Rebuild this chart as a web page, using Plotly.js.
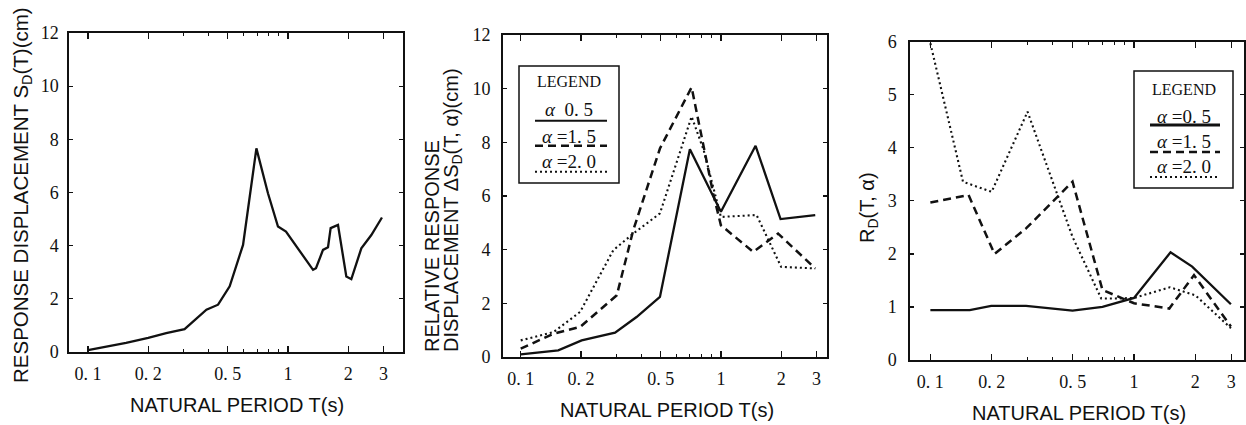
<!DOCTYPE html>
<html><head><meta charset="utf-8">
<script src="https://cdn.plot.ly/plotly-3.0.1.min.js"></script>
<style>html,body{margin:0;padding:0;background:#fff}#c{width:1246px;height:425px}</style>
</head><body><div id="c"></div>
<script>
// ---- data ----
const T1 = [0.1,0.155,0.2,0.246,0.304,0.391,0.447,0.511,0.596,0.695,0.794,0.891,0.977,1.334,1.38,1.496,1.585,1.634,1.778,1.957,2.073,2.326,2.61,2.95];
const SD1 = [0.07,0.34,0.53,0.71,0.86,1.59,1.78,2.47,4.03,7.66,5.97,4.72,4.53,3.09,3.15,3.84,3.94,4.66,4.78,2.84,2.74,3.9,4.4,5.06];

const T2a = [0.1,0.154,0.2016,0.296,0.379,0.496,0.7,1.0,1.49,1.986,2.96];
const D2a = [0.1,0.25,0.62,0.91,1.49,2.24,7.74,5.41,7.87,5.14,5.29];
const T2b = [0.1,0.146,0.198,0.302,0.365,0.496,0.714,0.82,0.915,1.0,1.45,1.93,2.96];
const D2b = [0.31,0.87,1.12,2.3,4.73,7.77,10.05,7.77,6.09,4.91,3.92,4.6,3.3];
const T2c = [0.1,0.146,0.198,0.29,0.365,0.496,0.714,0.82,1.0,1.507,2.0,2.96];
const D2c = [0.62,0.93,1.68,3.98,4.6,5.35,8.96,7.71,5.22,5.29,3.36,3.3];

const T3a = [0.1,0.156,0.199,0.295,0.499,0.7,1.0,1.511,1.93,2.99];
const R3a = [0.94,0.94,1.02,1.02,0.93,1.0,1.17,2.03,1.76,1.05];
const T3b = [0.1,0.154,0.2065,0.295,0.499,0.7,1.0,1.49,1.97,2.99];
const R3b = [2.97,3.11,2.0,2.48,3.36,1.32,1.07,0.97,1.6,0.63];
const T3c = [0.1,0.1446,0.2,0.3,0.499,0.69,0.81,1.0,1.5,2.0,2.99];
const R3c = [5.97,3.36,3.17,4.68,2.32,1.16,1.16,1.17,1.37,1.22,0.6];

const xTickVals = [0.1,0.2,0.5,1,2,3];
const xTickText = ['0. 1','0. 2','0. 5','1','2','3'];
const xMinorVals = [0.3,0.4,0.6,0.7,0.8,0.9];
const legendLabels2 = ['LEGEND','\u03b1  0. 5','\u03b1 =1. 5','\u03b1 =2. 0'];
const legendLabels3 = ['LEGEND','\u03b1 =0. 5','\u03b1 =1. 5','\u03b1 =2. 0'];

// ---- layout helpers ----
const W = 1246, H = 425;
const px = x => x / W, py = y => 1 - y / H;
const SERIF = "'Liberation Serif', 'Times New Roman', serif";
const SANS = "'Liberation Sans', Arial, sans-serif";
const BLACK = '#111';

const solid = {color: BLACK, width: 2.3};
const dashed = {color: BLACK, width: 2.5, dash: '8px,5px'};
const dotted = {color: BLACK, width: 2.1, dash: '2px,3px'};

const traces = [
  {x: T1, y: SD1, xaxis: 'x', yaxis: 'y', mode: 'lines', line: solid, showlegend: false},
  {x: T2a, y: D2a, xaxis: 'x2', yaxis: 'y2', mode: 'lines', line: solid, showlegend: false},
  {x: T2b, y: D2b, xaxis: 'x2', yaxis: 'y2', mode: 'lines', line: dashed, showlegend: false},
  {x: T2c, y: D2c, xaxis: 'x2', yaxis: 'y2', mode: 'lines', line: dotted, showlegend: false},
  {x: T3a, y: R3a, xaxis: 'x3', yaxis: 'y3', mode: 'lines', line: solid, showlegend: false},
  {x: T3b, y: R3b, xaxis: 'x3', yaxis: 'y3', mode: 'lines', line: dashed, showlegend: false},
  {x: T3c, y: R3c, xaxis: 'x3', yaxis: 'y3', mode: 'lines', line: dotted, showlegend: false}
];

function xax(l, r, lo, hi, anchor) {
  return {
    type: 'log', domain: [px(l), px(r)], range: [lo, hi], anchor: anchor,
    tickmode: 'array', tickvals: xTickVals, ticktext: xTickText,
    ticks: 'inside', ticklen: 6, tickwidth: 1.3, tickcolor: BLACK,
    minor: {tickmode: 'array', tickvals: xMinorVals, ticks: 'inside', ticklen: 3, tickwidth: 1, tickcolor: BLACK},
    showline: true, linecolor: BLACK, linewidth: 1.6, mirror: 'ticks',
    showgrid: false, zeroline: false, ticklabelstandoff: 5,
    tickfont: {family: SERIF, size: 18, color: BLACK}, fixedrange: true
  };
}
function yax(t, b, hi, dt, anchor, stand) {
  return {
    domain: [py(b), py(t)], range: [0, hi], anchor: anchor, dtick: dt, tick0: 0,
    ticks: 'inside', ticklen: 4, tickwidth: 1.2, tickcolor: BLACK,
    showline: true, linecolor: BLACK, linewidth: 1.6, mirror: 'ticks',
    showgrid: false, zeroline: false, ticklabelstandoff: stand,
    tickfont: {family: SERIF, size: 18, color: BLACK}, fixedrange: true
  };
}

const ann = [];
function A(text, x, y, opts) {
  ann.push(Object.assign({text: text, x: px(x), y: py(y), xref: 'paper', yref: 'paper',
    xanchor: 'center', yanchor: 'middle', showarrow: false,
    font: {family: SANS, size: 20, color: BLACK}}, opts || {}));
}
// axis titles
A('NATURAL PERIOD T(s)', 237, 405);
A('NATURAL PERIOD T(s)', 667, 410);
A('NATURAL PERIOD T(s)', 1079, 413);
A('RESPONSE DISPLACEMENT S<sub>D</sub>(T)(cm)', 22, 195, {textangle: -90, font: {family: SANS, size: 20.5, color: BLACK}});
A('RELATIVE RESPONSE', 432, 354, {textangle: -90, yanchor: 'bottom'});
A('DISPLACEMENT \u0394S<sub>D</sub>(T, \u03b1)(cm)', 452, 354, {textangle: -90, yanchor: 'bottom'});
A('R<sub>D</sub>(T, \u03b1)', 868, 208, {textangle: -90});

const shapes = [];
function legendBox(x0, y0, x1, y1, labels, ys, lys, lx0, lx1, w0) {
  shapes.push({type: 'rect', xref: 'paper', yref: 'paper', x0: px(x0), x1: px(x1), y0: py(y1), y1: py(y0),
    line: {color: BLACK, width: 1.5}, fillcolor: 'rgba(255,255,255,0)'});
  const cx = (x0 + x1) / 2;
  labels.forEach((lab, i) => {
    const txt = i === 0 ? lab : lab.replace('\u03b1', '<i>\u03b1</i>');
    A(txt, cx, ys[i], {font: {family: SERIF, size: i === 0 ? 16 : 19, color: BLACK}});
  });
  const styles = [Object.assign({}, solid, {width: w0}), dashed, dotted];
  lys.forEach((ly, i) => {
    shapes.push({type: 'line', xref: 'paper', yref: 'paper', x0: px(lx0), x1: px(lx1), y0: py(ly), y1: py(ly), line: styles[i]});
  });
}
legendBox(519, 66, 619, 183, legendLabels2, [82, 109, 136, 161], [120.7, 145.7, 171.7], 535, 607, 2);
legendBox(1134, 71, 1233, 188, legendLabels3, [89, 116, 141, 166], [125, 152, 177], 1150, 1220, 3);

const layout = {
  width: W, height: H, margin: {l: 0, r: 0, t: 0, b: 0},
  font: {family: SERIF, color: BLACK},
  paper_bgcolor: '#fff', plot_bgcolor: '#fff', showlegend: false,
  xaxis: xax(69, 403, -1.095, 0.575, 'y'),
  yaxis: yax(33, 352, 12, 2, 'x', 5),
  xaxis2: xax(502.7, 827, -1.09, 0.53, 'y2'),
  yaxis2: yax(35, 357, 12, 2, 'x2', 7),
  xaxis3: xax(910, 1244, -1.1, 0.54, 'y3'),
  yaxis3: yax(41.7, 360, 6, 1, 'x3', 8),
  annotations: ann, shapes: shapes
};
Plotly.newPlot('c', traces, layout, {displayModeBar: false, staticPlot: true});
</script></body></html>
